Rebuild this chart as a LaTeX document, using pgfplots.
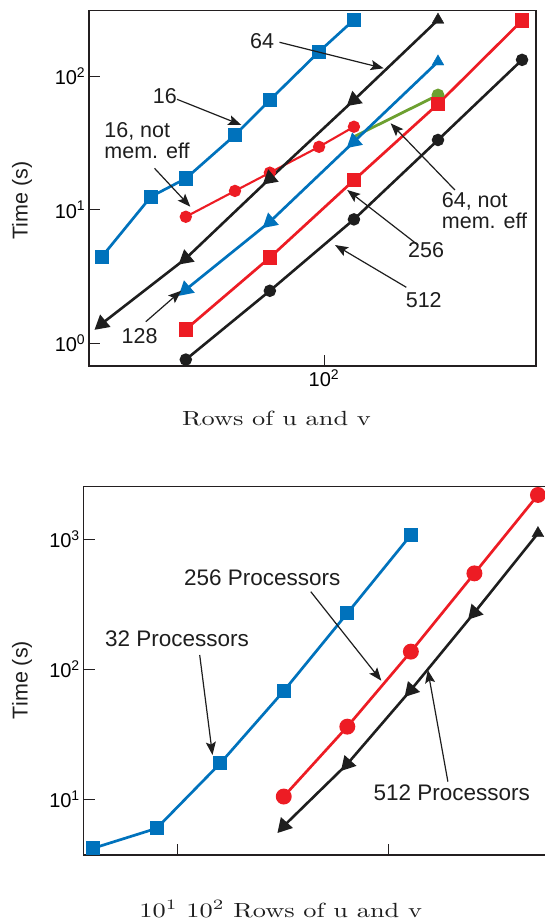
\documentclass[border=0pt]{standalone}
\usepackage{fontspec}
\newfontfamily\hv{Liberation Sans}
\usepackage{pgfplots}
\pgfplotsset{compat=1.18}
\usepackage{pgfplotstable}
\usetikzlibrary{arrows.meta}
\definecolor{cblue}{RGB}{0,114,188}
\definecolor{cred}{RGB}{237,28,36}
\definecolor{cgreen}{RGB}{108,160,48}
\definecolor{cblack}{RGB}{30,30,30}
\definecolor{framec}{RGB}{35,31,32}

\pgfplotstableread{
x y
16 1.40
32 4.31
64 17.1
128 66.1
256 263
}\tblackA
\pgfplotstableread{
x y
32 2.52
64 8.11
128 32.2
256 128
}\tblueB
\pgfplotstableread{
x y
32 6.23
64 18.7
128 69.3
256 273
512 1112
}\tblackC

\begin{document}
\begin{tikzpicture}
\useasboundingbox (0,0) rectangle (545bp,921bp);

% ---------- top chart ----------
\begin{loglogaxis}[scale only axis, clip=false,
  axis line style={line width=1.6bp, color=framec},
  tick align=inside, major tick length=11.5bp,
  every tick/.style={line width=0.8bp, color=framec},
  xtick pos=left, ytick pos=left,
  xminorticks=false, yminorticks=false,
  tick label style={font=\hv\fontsize{20bp}{24bp}\selectfont},
  at={(88.8bp,555bp)}, anchor=south west,
  width=447.2bp, height=355.3bp,
  xmin=14.38, xmax=574.5, ymin=0.676, ymax=308,
  xtick={100}, xticklabels={10\textsuperscript{2}},
  ytick={1,10,100}, yticklabels={10\textsuperscript{0},10\textsuperscript{1},10\textsuperscript{2}}]
% 64, not mem. eff
\addplot[cgreen, line width=2.8bp, mark=*, mark size=5bp, mark indices={2}] table {
x y
128 35.1
256 72
};
% 16
\addplot[cblue, line width=2.7bp, mark=square*, mark size=5.7bp] table {
x y
16 4.43
24 12.5
32 17.1
48 36.1
64 66.1
96 152
128 263
};
% 16, not mem. eff
\addplot[cred, line width=2.1bp, mark=*, mark size=5.1bp] table {
x y
32 8.84
48 13.8
64 18.9
96 29.5
128 41.7
};
% 64
\addplot[cblack, line width=2.6bp, mark=triangle*, mark size=6.8bp, mark indices={1,2,3,4}, mark options={rotate=130}] table {\tblackA};
\addplot[cblack, only marks, mark=triangle*, mark size=6.8bp, mark indices={5}] table {\tblackA};
% 128
\addplot[cblue, line width=2.7bp, mark=triangle*, mark size=6.8bp, mark indices={1,2,3}, mark options={rotate=131}] table {\tblueB};
\addplot[cblue, only marks, mark=triangle*, mark size=6.8bp, mark indices={4}] table {\tblueB};
% 256
\addplot[cred, line width=2.7bp, mark=square*, mark size=5.9bp] table {
x y
32 1.27
64 4.38
128 16.6
256 61.7
512 260
};
% 512
\addplot[cblack, line width=2.6bp, mark=*, mark size=4.9bp] table {
x y
32 0.755
64 2.47
128 8.45
256 33.2
512 132
};
\end{loglogaxis}

% ---------- bottom chart ----------
\begin{loglogaxis}[scale only axis, clip=false,
  axis line style={line width=1.6bp, color=framec},
  tick align=inside, major tick length=11.5bp,
  every tick/.style={line width=0.8bp, color=framec},
  xtick pos=left, ytick pos=left,
  xminorticks=false, yminorticks=false,
  tick label style={font=\hv\fontsize{20bp}{24bp}\selectfont},
  at={(83.3bp,66bp)}, anchor=south west,
  width=463.2bp, height=368.3bp,
  xmin=3.594, xmax=562, ymin=3.728, ymax=2539,
  xtick={10,100}, xticklabels={,},
  ytick={10,100,1000}, yticklabels={10\textsuperscript{1},10\textsuperscript{2},10\textsuperscript{3}}]
% 32 Processors
\addplot[cblue, line width=2.7bp, mark=square*, mark size=5.6bp] table {
x y
4 4.2
8 5.98
16 18.9
32 68.1
64 270
128 1080
};
% 256 Processors
\addplot[cred, line width=2.7bp, mark=*, mark size=6.6bp] table {
x y
32 10.5
64 36.2
128 136.7
256 547
512 2193
};
% 512 Processors
\addplot[cblack, line width=2.6bp, mark=triangle*, mark size=6.8bp, mark indices={1,2,3,4}, mark options={rotate=138}] table {\tblackC};
\addplot[cblack, only marks, mark=triangle*, mark size=6.8bp, mark indices={5}] table {\tblackC};
\end{loglogaxis}

\begin{scope}[x=1bp,y=1bp,
  arr/.style={line width=1.2bp, cblack, -{Stealth[length=13bp,width=10bp,inset=2.5bp]}},
  lab/.style={anchor=base west, inner sep=0pt, font=\hv\fontsize{21.5bp}{25bp}\selectfont, text=cblack},
  labb/.style={anchor=base west, inner sep=0pt, font=\hv\fontsize{22.5bp}{26bp}\selectfont, text=cblack}]
% top annotations
\node[lab] at (250,872.6) {64};
\draw[arr] (279.5,878.7) -- (383.7,852.7);
\node[lab] at (152.8,817.3) {16};
\draw[arr] (177,821.7) -- (241.3,796);
\node[lab] at (104.2,783.7) {16, not};
\node[lab] at (104.2,762.7) {mem. eff};
\draw[arr] (154.5,752.7) -- (190.3,714.3);
\node[lab] at (121.5,577) {128};
\draw[arr] (145.8,599.3) -- (181.3,630.3);
\node[lab] at (441.7,713) {64, not};
\node[lab] at (441.7,692.3) {mem. eff};
\draw[arr] (454.9,731) -- (390.6,797.7);
\node[lab] at (408,663.8) {256};
\draw[arr] (418,676) -- (347.2,731);
\node[lab] at (405.6,613.5) {512};
\draw[arr] (406.3,633.7) -- (335,676);
% bottom annotations
\node[labb] at (184,336) {256 Processors};
\draw[arr] (310.8,329.3) -- (381.3,240.3);
\node[labb] at (104.9,275) {32 Processors};
\draw[arr] (199.7,266) -- (212.5,166);
\node[labb] at (373.3,121) {512 Processors};
\draw[arr] (447.9,139.3) -- (427.8,251);
% axis labels
\node[rotate=90, inner sep=0pt, font=\hv\fontsize{21.5bp}{25bp}\selectfont, text=cblack] at (22,720.3) {Time (s)};
\node[rotate=90, inner sep=0pt, font=\hv\fontsize{21.5bp}{25bp}\selectfont, text=cblack] at (22,241) {Time (s)};
\node[anchor=base west, inner sep=0pt, font=\fontsize{10bp}{12bp}\selectfont, text=cblack] at (182,495.3) {\scalebox{2.636}[2.05]{Rows of u and v}};
\node[anchor=base west, inner sep=0pt, font=\fontsize{10bp}{12bp}\selectfont, text=cblack] at (139.3,3.7) {\scalebox{2.636}[2.05]{10\textsuperscript{1} 10\textsuperscript{2} Rows of u and v}};
\end{scope}
\end{tikzpicture}
\end{document}
